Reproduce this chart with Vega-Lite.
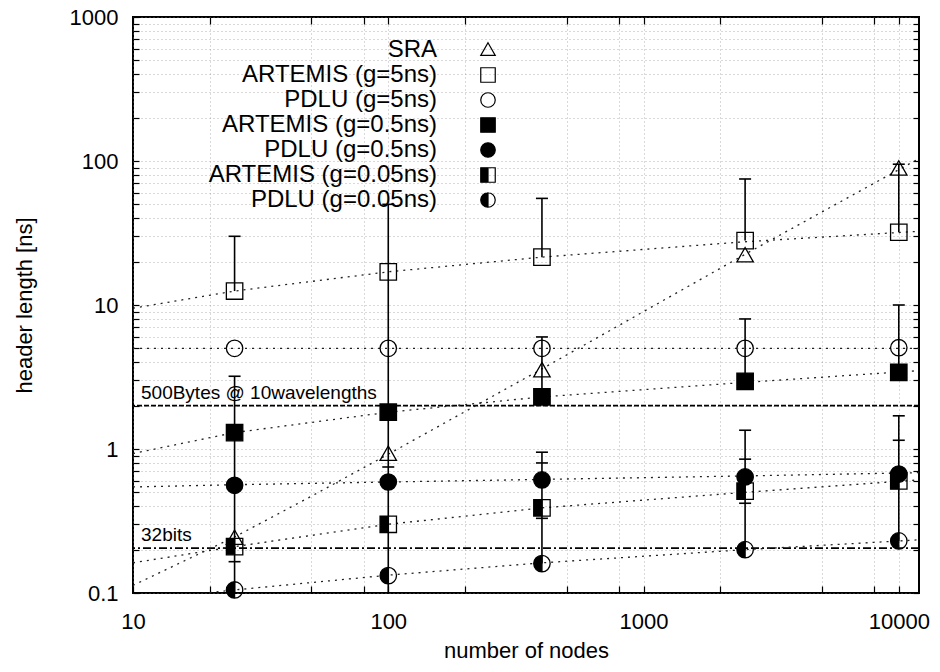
{
  "$schema": "https://vega.github.io/schema/vega-lite/v6.json",
  "width": 786,
  "height": 576,
  "autosize": {"type": "none"},
  "padding": {"left": 133, "top": 17, "right": 21, "bottom": 79},
  "background": "white",
  "config": {
    "font": "Liberation Sans",
    "view": {"stroke": "black", "strokeWidth": 2},
    "axis": {
      "labelFont": "Liberation Sans",
      "titleFont": "Liberation Sans",
      "labelFontSize": 22,
      "titleFontSize": 22,
      "titleFontWeight": "normal",
      "labelColor": "black",
      "titleColor": "black",
      "tickColor": "black",
      "tickWidth": 1.2,
      "domain": false,
      "labelOverlap": false,
      "labelFlush": false,
      "labelBound": false,
      "gridColor": "#888888",
      "gridDash": [1, 3],
      "gridWidth": 0.8,
      "gridOpacity": 0.8
    },
    "legend": {
      "orient": "none",
      "legendX": 343,
      "legendY": 21,
      "direction": "vertical",
      "labelAlign": "right",
      "labelOffset": -63,
      "labelFontSize": 24,
      "labelFont": "Liberation Sans",
      "labelColor": "black",
      "labelLimit": 400,
      "symbolSize": 210,
      "symbolStrokeColor": "black",
      "symbolStrokeWidth": 1.2,
      "symbolOpacity": 1,
      "rowPadding": 1,
      "padding": 0
    }
  },
  "datasets": {
    "points": [
      {"series": "SRA", "n": 25, "v": 0.24},
      {"series": "SRA", "n": 100, "v": 0.92},
      {"series": "SRA", "n": 400, "v": 3.5},
      {"series": "SRA", "n": 2500, "v": 22},
      {"series": "SRA", "n": 10000, "v": 88},
      {"series": "ARTEMIS (g=5ns)", "n": 25, "v": 12.5},
      {"series": "ARTEMIS (g=5ns)", "n": 100, "v": 17},
      {"series": "ARTEMIS (g=5ns)", "n": 400, "v": 21.5},
      {"series": "ARTEMIS (g=5ns)", "n": 2500, "v": 28},
      {"series": "ARTEMIS (g=5ns)", "n": 10000, "v": 32},
      {"series": "PDLU (g=5ns)", "n": 25, "v": 5},
      {"series": "PDLU (g=5ns)", "n": 100, "v": 5},
      {"series": "PDLU (g=5ns)", "n": 400, "v": 5},
      {"series": "PDLU (g=5ns)", "n": 2500, "v": 5},
      {"series": "PDLU (g=5ns)", "n": 10000, "v": 5.05},
      {"series": "ARTEMIS (g=0.5ns)", "n": 25, "v": 1.3},
      {"series": "ARTEMIS (g=0.5ns)", "n": 100, "v": 1.8},
      {"series": "ARTEMIS (g=0.5ns)", "n": 400, "v": 2.3},
      {"series": "ARTEMIS (g=0.5ns)", "n": 2500, "v": 2.95},
      {"series": "ARTEMIS (g=0.5ns)", "n": 10000, "v": 3.4},
      {"series": "PDLU (g=0.5ns)", "n": 25, "v": 0.56},
      {"series": "PDLU (g=0.5ns)", "n": 100, "v": 0.59},
      {"series": "PDLU (g=0.5ns)", "n": 400, "v": 0.61},
      {"series": "PDLU (g=0.5ns)", "n": 2500, "v": 0.64},
      {"series": "PDLU (g=0.5ns)", "n": 10000, "v": 0.67},
      {"series": "ARTEMIS (g=0.05ns)", "n": 25, "v": 0.21},
      {"series": "ARTEMIS (g=0.05ns)", "n": 100, "v": 0.3},
      {"series": "ARTEMIS (g=0.05ns)", "n": 400, "v": 0.39},
      {"series": "ARTEMIS (g=0.05ns)", "n": 2500, "v": 0.51},
      {"series": "ARTEMIS (g=0.05ns)", "n": 10000, "v": 0.6},
      {"series": "PDLU (g=0.05ns)", "n": 25, "v": 0.105},
      {"series": "PDLU (g=0.05ns)", "n": 100, "v": 0.132},
      {"series": "PDLU (g=0.05ns)", "n": 400, "v": 0.16},
      {"series": "PDLU (g=0.05ns)", "n": 2500, "v": 0.2},
      {"series": "PDLU (g=0.05ns)", "n": 10000, "v": 0.23}
    ],
    "fits": [
      {"series": "SRA", "n": 10, "v": 0.113},
      {"series": "SRA", "n": 25, "v": 0.245},
      {"series": "SRA", "n": 50, "v": 0.47},
      {"series": "SRA", "n": 100, "v": 0.92},
      {"series": "SRA", "n": 400, "v": 3.6},
      {"series": "SRA", "n": 2500, "v": 22.5},
      {"series": "SRA", "n": 12000, "v": 104},
      {"series": "ARTEMIS (g=5ns)", "n": 10, "v": 9.5},
      {"series": "ARTEMIS (g=5ns)", "n": 25, "v": 12.5},
      {"series": "ARTEMIS (g=5ns)", "n": 100, "v": 17},
      {"series": "ARTEMIS (g=5ns)", "n": 400, "v": 21.5},
      {"series": "ARTEMIS (g=5ns)", "n": 2500, "v": 27.5},
      {"series": "ARTEMIS (g=5ns)", "n": 12000, "v": 32.5},
      {"series": "PDLU (g=5ns)", "n": 10, "v": 5},
      {"series": "PDLU (g=5ns)", "n": 12000, "v": 5},
      {"series": "ARTEMIS (g=0.5ns)", "n": 10, "v": 0.93},
      {"series": "ARTEMIS (g=0.5ns)", "n": 25, "v": 1.3},
      {"series": "ARTEMIS (g=0.5ns)", "n": 100, "v": 1.8},
      {"series": "ARTEMIS (g=0.5ns)", "n": 400, "v": 2.3},
      {"series": "ARTEMIS (g=0.5ns)", "n": 2500, "v": 2.9},
      {"series": "ARTEMIS (g=0.5ns)", "n": 12000, "v": 3.5},
      {"series": "PDLU (g=0.5ns)", "n": 10, "v": 0.545},
      {"series": "PDLU (g=0.5ns)", "n": 25, "v": 0.565},
      {"series": "PDLU (g=0.5ns)", "n": 100, "v": 0.59},
      {"series": "PDLU (g=0.5ns)", "n": 400, "v": 0.615},
      {"series": "PDLU (g=0.5ns)", "n": 2500, "v": 0.65},
      {"series": "PDLU (g=0.5ns)", "n": 12000, "v": 0.685},
      {"series": "ARTEMIS (g=0.05ns)", "n": 10, "v": 0.162},
      {"series": "ARTEMIS (g=0.05ns)", "n": 25, "v": 0.21},
      {"series": "ARTEMIS (g=0.05ns)", "n": 100, "v": 0.3},
      {"series": "ARTEMIS (g=0.05ns)", "n": 400, "v": 0.39},
      {"series": "ARTEMIS (g=0.05ns)", "n": 2500, "v": 0.5},
      {"series": "ARTEMIS (g=0.05ns)", "n": 12000, "v": 0.61},
      {"series": "PDLU (g=0.05ns)", "n": 10, "v": 0.088},
      {"series": "PDLU (g=0.05ns)", "n": 25, "v": 0.105},
      {"series": "PDLU (g=0.05ns)", "n": 100, "v": 0.133},
      {"series": "PDLU (g=0.05ns)", "n": 400, "v": 0.162},
      {"series": "PDLU (g=0.05ns)", "n": 2500, "v": 0.2},
      {"series": "PDLU (g=0.05ns)", "n": 12000, "v": 0.234}
    ],
    "bars": [
      {"n": 25, "lo": 12.5, "hi": 30},
      {"n": 25, "lo": 0.1, "hi": 3.2},
      {"n": 100, "lo": 0.1, "hi": 50},
      {"n": 400, "lo": 21.5, "hi": 55},
      {"n": 400, "lo": 2.3, "hi": 6.0},
      {"n": 400, "lo": 0.16, "hi": 0.95},
      {"n": 2500, "lo": 28, "hi": 75},
      {"n": 2500, "lo": 2.9, "hi": 8},
      {"n": 2500, "lo": 0.2, "hi": 1.35},
      {"n": 10000, "lo": 32, "hi": 95},
      {"n": 10000, "lo": 3.4, "hi": 10},
      {"n": 10000, "lo": 0.23, "hi": 1.7}
    ],
    "caps": [
      {"n": 25, "v": 30}, {"n": 25, "v": 3.2}, {"n": 25, "v": 0.165},
      {"n": 100, "v": 50}, {"n": 100, "v": 0.75},
      {"n": 400, "v": 55}, {"n": 400, "v": 6.0}, {"n": 400, "v": 0.95}, {"n": 400, "v": 0.8}, {"n": 400, "v": 0.33},
      {"n": 2500, "v": 75}, {"n": 2500, "v": 8}, {"n": 2500, "v": 1.35}, {"n": 2500, "v": 0.85}, {"n": 2500, "v": 0.42},
      {"n": 10000, "v": 95}, {"n": 10000, "v": 10}, {"n": 10000, "v": 1.7}, {"n": 10000, "v": 1.15}
    ],
    "refs": [
      {"label": "500Bytes @ 10wavelengths", "v": 2},
      {"label": "32bits", "v": 0.205}
    ]
  },
  "resolve": {"axis": {"x": "independent", "y": "independent"}},
  "layer": [
    {
      "data": {"name": "refs"},
      "mark": {"type": "rule", "color": "black", "strokeWidth": 1.8},
      "encoding": {
        "y": {"field": "v", "type": "quantitative", "scale": {"type": "log", "domain": [0.1, 1000], "nice": false}, "axis": null},
        "strokeDash": {"field": "label", "type": "nominal", "scale": {"domain": ["500Bytes @ 10wavelengths", "32bits"], "range": [[5, 2], [8, 3, 2, 3]]}, "legend": null}
      }
    },
    {
      "data": {"name": "refs"},
      "mark": {"type": "text", "align": "left", "baseline": "alphabetic", "dx": 8, "dy": -7, "fontSize": 19, "color": "black", "font": "Liberation Sans"},
      "encoding": {
        "x": {"datum": 10, "type": "quantitative", "scale": {"type": "log", "domain": [10, 12000], "nice": false}, "axis": null},
        "y": {"field": "v", "type": "quantitative", "axis": null},
        "text": {"field": "label"}
      }
    },
    {
      "data": {"name": "fits"},
      "mark": {"type": "line", "color": "#222222", "strokeWidth": 1.3, "strokeDash": [2, 5], "clip": true},
      "encoding": {
        "x": {"field": "n", "type": "quantitative", "axis": null},
        "y": {"field": "v", "type": "quantitative", "axis": null},
        "detail": {"field": "series"}
      }
    },
    {
      "data": {"name": "bars"},
      "mark": {"type": "rule", "color": "black", "strokeWidth": 1.6, "clip": true},
      "encoding": {
        "x": {"field": "n", "type": "quantitative", "axis": null},
        "y": {"field": "lo", "type": "quantitative", "axis": null},
        "y2": {"field": "hi"}
      }
    },
    {
      "data": {"name": "caps"},
      "mark": {"type": "tick", "orient": "horizontal", "size": 12, "thickness": 1.6, "color": "black", "opacity": 1},
      "encoding": {
        "x": {"field": "n", "type": "quantitative", "axis": {"orient": "top", "values": [10, 20, 50, 80, 100, 200, 500, 800, 1000, 2000, 5000, 8000, 10000], "labels": false, "tickSize": -7, "grid": false, "title": null}},
        "y": {"field": "v", "type": "quantitative", "axis": {"orient": "right", "values": [0.1, 0.2, 0.3, 0.4, 0.5, 0.6, 0.7, 0.8, 0.9, 1, 2, 3, 4, 5, 6, 7, 8, 9, 10, 20, 30, 40, 50, 60, 70, 80, 90, 100, 200, 300, 400, 500, 600, 700, 800, 900, 1000], "labels": false, "tickSize": -6, "grid": false, "title": null}}
      }
    },
    {
      "data": {"name": "points"},
      "mark": {"type": "point", "filled": true, "stroke": "black", "strokeWidth": 1.3, "size": 270, "opacity": 1},
      "encoding": {
        "x": {"field": "n", "type": "quantitative", "axis": {"orient": "bottom", "title": "number of nodes", "values": [10, 20, 50, 80, 100, 200, 500, 800, 1000, 2000, 5000, 8000, 10000], "labelExpr": "indexof([10, 100, 1000, 10000], datum.value) >= 0 ? format(datum.value, 'd') : ''", "tickSize": -7, "labelPadding": 25, "titlePadding": 8, "grid": true}},
        "y": {"field": "v", "type": "quantitative", "axis": {"orient": "left", "title": "header length [ns]", "values": [0.1, 0.2, 0.3, 0.4, 0.5, 0.6, 0.7, 0.8, 0.9, 1, 2, 3, 4, 5, 6, 7, 8, 9, 10, 20, 30, 40, 50, 60, 70, 80, 90, 100, 200, 300, 400, 500, 600, 700, 800, 900, 1000], "labelExpr": "datum.value == 0.1 ? '0.1' : (indexof([1, 10, 100, 1000], datum.value) >= 0 ? format(datum.value, 'd') : '')", "tickSize": -6, "labelPadding": 21, "titlePadding": 33, "grid": true}},
        "shape": {
          "field": "series", "type": "nominal",
          "scale": {
            "domain": ["SRA", "ARTEMIS (g=5ns)", "PDLU (g=5ns)", "ARTEMIS (g=0.5ns)", "PDLU (g=0.5ns)", "ARTEMIS (g=0.05ns)", "PDLU (g=0.05ns)"],
            "range": [
              "M0,-1L1,0.75L-1,0.75Z",
              "M-1,-1L1,-1L1,1L-1,1Z",
              "M1,0A1,1,0,1,1,-1,0A1,1,0,1,1,1,0Z",
              "M-1,-1L1,-1L1,1L-1,1Z",
              "M1,0A1,1,0,1,1,-1,0A1,1,0,1,1,1,0Z",
              "M0,-1L-1,-1L-1,1L0,1Z M0,-1L1,-1L1,1L0,1Z M0,-1L0,1L1,1L1,-1Z",
              "M0,-1A1,1,0,0,0,0,1Z M0,-1A1,1,0,0,1,0,1Z M0,1A1,1,0,0,0,0,-1Z"
            ]
          },
          "legend": {"title": null, "encode": {"symbols": {"update": {"stroke": {"value": "black"}, "strokeWidth": {"value": 1.2}, "opacity": {"value": 1}}}}}
        },
        "fill": {
          "field": "series", "type": "nominal",
          "scale": {
            "domain": ["SRA", "ARTEMIS (g=5ns)", "PDLU (g=5ns)", "ARTEMIS (g=0.5ns)", "PDLU (g=0.5ns)", "ARTEMIS (g=0.05ns)", "PDLU (g=0.05ns)"],
            "range": ["transparent", "transparent", "transparent", "black", "black", "black", "black"]
          },
          "legend": {"title": null, "encode": {"symbols": {"update": {"stroke": {"value": "black"}, "strokeWidth": {"value": 1.2}, "opacity": {"value": 1}}}}}
        }
      }
    }
  ]
}
